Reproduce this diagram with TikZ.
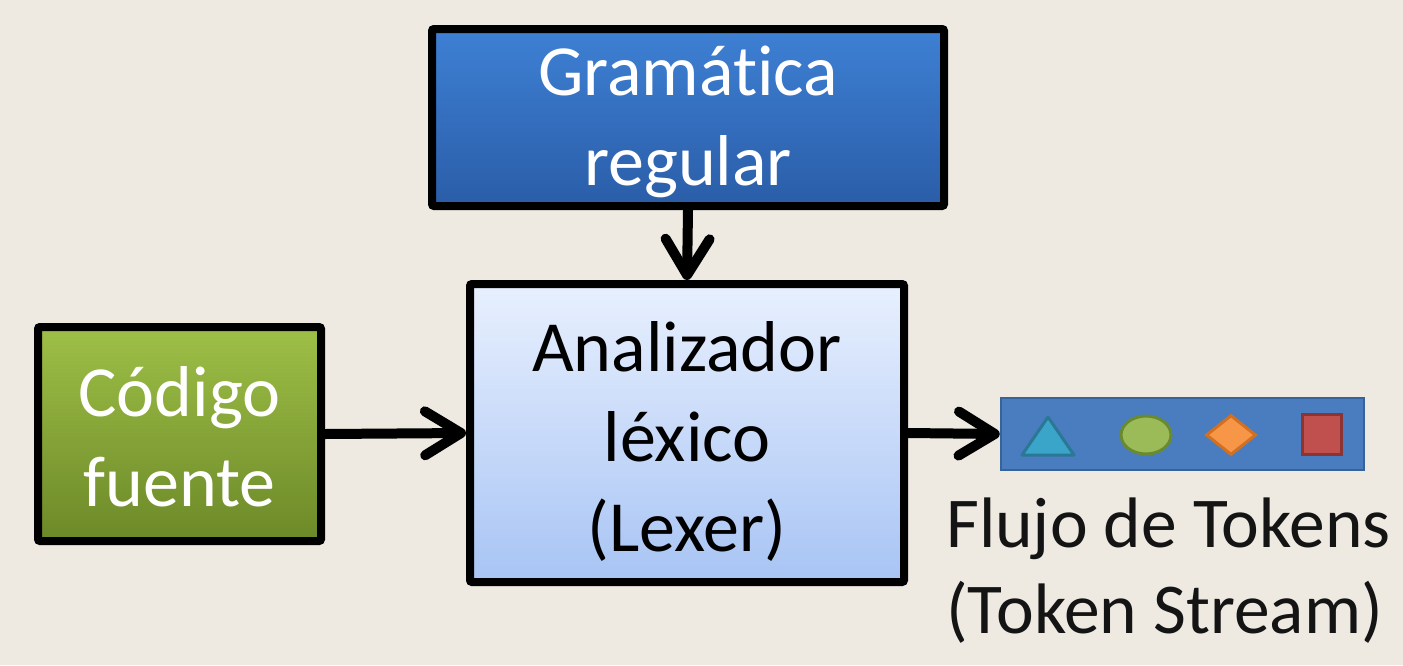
\documentclass[tikz,border=0pt]{standalone}
\usepackage{fontspec}
\setmainfont{Carlito}[Ligatures={NoCommon,NoContextual}]
\usetikzlibrary{arrows.meta,shapes.geometric}
\definecolor{bg}{HTML}{EEEAE2}
\definecolor{gtop}{HTML}{3E80D4}
\definecolor{gbot}{HTML}{2A5DA8}
\definecolor{ltop}{HTML}{E8F0FE}
\definecolor{lbot}{HTML}{A8C4F4}
\definecolor{ctop}{HTML}{9EBF47}
\definecolor{cbot}{HTML}{6C8928}
\definecolor{tokfill}{HTML}{4A7DC0}
\definecolor{tokline}{HTML}{36639A}
\definecolor{trifill}{HTML}{3AA5C8}
\definecolor{triline}{HTML}{2A7896}
\definecolor{ellfill}{HTML}{9BBB59}
\definecolor{ellline}{HTML}{6A8A30}
\definecolor{diafill}{HTML}{F79646}
\definecolor{dialine}{HTML}{D07020}
\definecolor{sqfill}{HTML}{C0504D}
\definecolor{sqline}{HTML}{8C3432}
\tikzset{
  box/.style={draw=black, line width=8pt, rounded corners=2pt, inner sep=0pt},
  txt/.style={align=center, inner sep=0pt, font=\fontsize{72}{90}\selectfont},
  bigarrow/.style={line width=10pt, line cap=round,
    -{Straight Barb[length=36pt, width=44pt, line cap=round, line join=round]}},
}
\begin{document}
\begin{tikzpicture}[x=1pt,y=-1pt]
\fill[bg] (0,0) rectangle (1403,665);
\useasboundingbox (0,0) rectangle (1403,665);
\node[box, minimum width=512pt, minimum height=177pt, top color=gtop, bottom color=gbot]
  (gram) at (688,117.5) {};
\node[txt, text=white, yshift=-4pt] (gramt) at (gram.center) {Gramática\\regular};
\node[box, minimum width=434pt, minimum height=298pt, top color=ltop, bottom color=lbot]
  (lex) at (687,433) {};
\node[txt, text=black, yshift=-8pt] (lext) at (lex.center) {Analizador\\léxico\\(Lexer)};
\node[box, minimum width=283pt, minimum height=214pt, top color=ctop, bottom color=cbot]
  (cod) at (179.5,434) {};
\node[txt, text=white, yshift=-3pt] (codt) at (cod.center) {Código\\fuente};
\node[draw=tokline, fill=tokfill, line width=2.5pt, minimum width=363pt, minimum height=72pt, inner sep=0pt]
  (tok) at (1182.5,434) {};
\node[anchor=base west, align=left, inner sep=0pt, font=\fontsize{71.5}{86}\selectfont, text=black!92]
  (lbl) at (946,633) {Flujo de Tokens\\(Token Stream)};
\draw[fill=trifill, draw=triline, line width=3pt, line join=round]
  (1022,455) -- (1048,417) -- (1074,455) -- cycle;
\node[ellipse, fill=ellfill, draw=ellline, line width=3pt, minimum width=50pt, minimum height=38pt, inner sep=0pt]
  (ell) at (1146,435) {};
\node[diamond, fill=diafill, draw=dialine, line width=3pt, minimum width=50pt, minimum height=40pt, inner sep=0pt, aspect=1.25]
  (dia) at (1231,435) {};
\node[rectangle, fill=sqfill, draw=sqline, line width=3pt, minimum width=39pt, minimum height=40pt, inner sep=0pt]
  (sq) at (1322,434.5) {};
\draw[bigarrow] (gram.south) -- (lex.north);
\draw[bigarrow] (cod.east) -- (lex.west);
\draw[bigarrow] (lex.east) -- (tok.west);
\end{tikzpicture}
\end{document}
